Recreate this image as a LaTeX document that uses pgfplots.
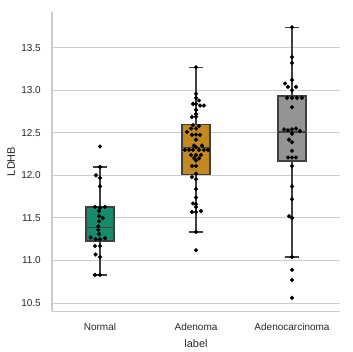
\documentclass[border=0pt]{standalone}
\usepackage{pgfplots}
\pgfplotsset{compat=1.18}
\usepgfplotslibrary{statistics}
\usepackage{fontspec}
\setmainfont{Liberation Sans}
\definecolor{gridgray}{HTML}{CCCCCC}
\definecolor{txt}{HTML}{262626}
\definecolor{edge}{HTML}{3F3F3F}
\definecolor{cgreen}{HTML}{168B6B}
\definecolor{corange}{HTML}{C38820}
\definecolor{cgray}{HTML}{949494}
\begin{document}
\begin{tikzpicture}
\useasboundingbox (-52pt,-41pt) rectangle (300pt,311pt);
\begin{axis}[
  at={(0pt,0pt)}, anchor=south west,
  scale only axis, width=288pt, height=299pt,
  xmin=-0.5, xmax=2.5, ymin=10.406, ymax=13.92,
  xtick={0,1,2}, xticklabels={Normal,Adenoma,Adenocarcinoma},
  ytick={10.5,11,11.5,12,12.5,13,13.5},
  yticklabel style={/pgf/number format/fixed, /pgf/number format/fixed zerofill, /pgf/number format/precision=1, anchor=east, inner sep=0pt, xshift=-11pt, font=\fontsize{10}{12}\selectfont, text=txt},
  xticklabel style={anchor=north, inner sep=0pt, yshift=-12pt, font=\fontsize{10}{12}\selectfont, text=txt},
  /pgf/number format/assume math mode=true,
  major tick length=0pt, tick style={draw=none},
  ymajorgrids, grid style={gridgray, line width=0.9pt},
  axis x line*=bottom, axis y line*=left,
  axis line style={-, draw=gridgray, line width=1pt},
  xlabel={label}, ylabel={LDHB},
  xlabel style={at={(axis description cs:0.5,0)}, anchor=north, inner sep=0pt, yshift=-28pt, font=\fontsize{10.9}{13}\selectfont, text=txt},
  ylabel style={at={(axis description cs:0,0.5)}, anchor=south, inner sep=0pt, yshift=37pt, font=\fontsize{10.9}{13}\selectfont, text=txt},
  boxplot/draw direction=y,
  clip=false,
]
\addplot[boxplot prepared={lower whisker=10.83, lower quartile=11.23, median=11.39, upper quartile=11.63, upper whisker=12.10, draw position=0, box extend=0.295, whisker extend=0.156}, draw=edge, fill=cgreen, line width=1.4pt] coordinates {};
\addplot[boxplot prepared={lower whisker=11.335, lower quartile=12.01, median=12.33, upper quartile=12.595, upper whisker=13.27, draw position=1, box extend=0.295, whisker extend=0.156}, draw=edge, fill=corange, line width=1.4pt] coordinates {};
\addplot[boxplot prepared={lower whisker=11.04, lower quartile=12.17, median=12.51, upper quartile=12.935, upper whisker=13.74, draw position=2, box extend=0.295, whisker extend=0.156}, draw=edge, fill=cgray, line width=1.4pt] coordinates {};
% Normal
\addplot[only marks, mark=*, mark size=1.9pt, black] coordinates {
(0,12.34) (0,12.10) (-0.042,12.00) (0,11.97) (0,11.87) (-0.052,11.63) (0,11.62) (0.052,11.63)
(-0.01,11.58) (-0.01,11.52) (0.028,11.50) (-0.01,11.46) (-0.018,11.40) (-0.018,11.36) (-0.01,11.31)
(-0.097,11.27) (-0.045,11.25) (0,11.25) (0.052,11.26) (-0.052,11.17) (0,11.17) (-0.045,11.07)
(0,11.04) (-0.052,10.83) (0,10.83)
};
% Adenoma
\addplot[only marks, mark=*, mark size=1.9pt, black] coordinates {
(1,13.27) (1,12.96) (1,12.91) (1.031,12.88) (0.969,12.84) (1,12.84) (1.042,12.82) (1.083,12.82)
(1,12.77) (1,12.72) (0.958,12.685) (1,12.69) (0.969,12.59) (1.031,12.58) (0.948,12.55) (1,12.55)
(0.906,12.51) (0.958,12.475) (1,12.48) (1.042,12.475) (1,12.42) (0.979,12.35) (1.063,12.35)
(0.885,12.30) (0.927,12.30) (0.969,12.30) (1.031,12.30) (1.083,12.30) (1.125,12.30) (1,12.33)
(0.948,12.24) (1,12.24) (1.052,12.24) (0.979,12.205) (1.031,12.20) (1,12.175)
(0.958,12.11) (1,12.11) (1,12.02) (0.958,11.98) (1,11.955) (1,11.84) (1,11.74)
(0.969,11.67) (1,11.66) (1,11.63) (0.958,11.57) (1,11.57) (1.052,11.58) (1,11.335) (1,11.12)
};
% Adenocarcinoma
\addplot[only marks, mark=*, mark size=1.9pt, black] coordinates {
(2,13.74) (2,13.39) (2,13.32) (2,13.12) (1.927,13.08) (1.958,13.04) (2.042,13.04) (2,13.00)
(1.948,12.91) (2,12.91) (2.052,12.91) (2.104,12.91) (2,12.80)
(2.042,12.55) (1.917,12.54) (1.958,12.53) (2,12.54) (2.083,12.52) (2,12.49) (1.969,12.42) (2,12.39)
(2,12.29) (1.958,12.21) (2,12.21) (2.042,12.21) (2,12.11) (2,11.87) (2,11.72)
(1.969,11.52) (2,11.50) (2,11.04) (2,10.89) (2,10.77) (2,10.56)
};
\end{axis}
\end{tikzpicture}
\end{document}
